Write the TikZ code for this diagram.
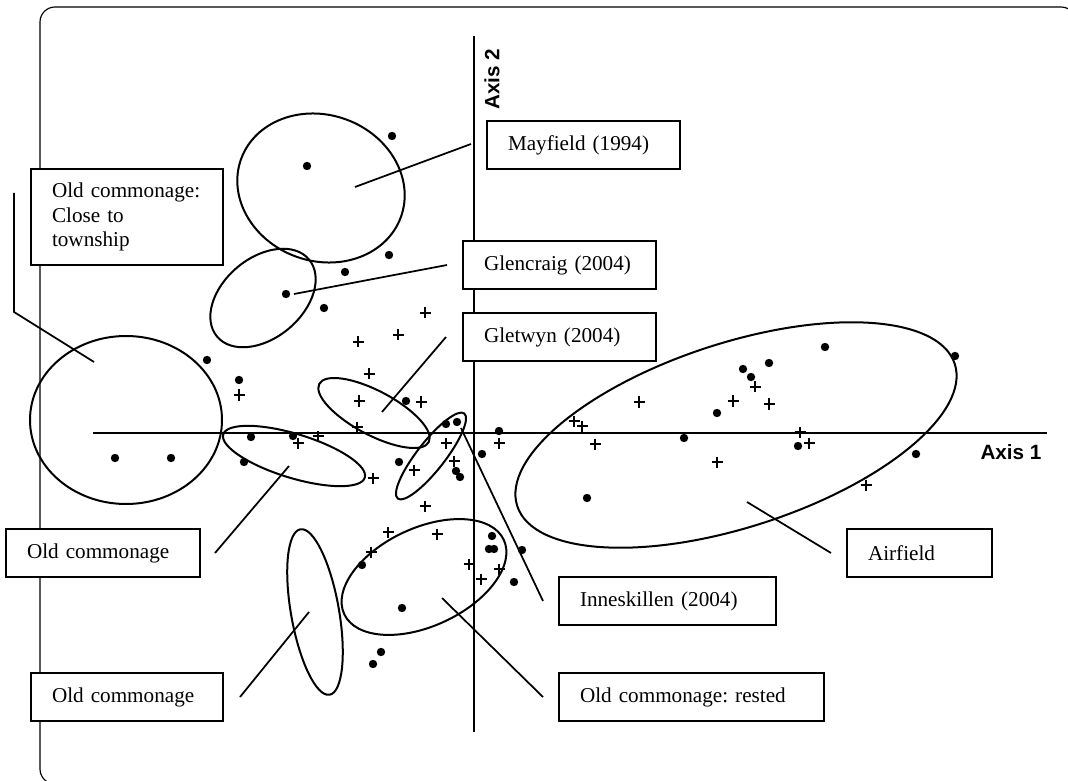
\documentclass[tikz,border=0pt]{standalone}
\usepackage{fontspec}
\setmainfont{Liberation Serif}
\newfontfamily\axfont{Liberation Sans}
\usetikzlibrary{calc}
\frenchspacing
\tikzset{crs/.pic={\draw[line width=0.75pt] (-5.5,0) -- (5.5,0) (0,-5.5) -- (0,5.5);}}
\begin{document}
\begin{tikzpicture}[x=0.6pt,y=-0.6pt,
  box/.style={draw,fill=white,line width=1.2pt,inner xsep=12.6pt,inner ysep=0pt,
    minimum height=28.8pt,align=left,anchor=north west,
    font=\fontsize{12.7}{14.7}\selectfont\frenchspacing},
  lead/.style={line width=1.05pt},
  ell/.style={line width=1.2pt},
  axisline/.style={line width=1.45pt},
  axlabel/.style={font={\axfont\bfseries\fontsize{12.4}{14}\selectfont}},
]
\useasboundingbox (0,0) rectangle (1068,781);
\clip (0,0) rectangle (1068,781);
% frame
\draw[line width=0.7pt, rounded corners=9pt] (40,7) rectangle (1076,784);
% axes
\coordinate (a1w) at (93,433);
\coordinate (a1e) at (1047,433);
\coordinate (a2n) at (474,36);
\coordinate (a2s) at (474,732);
\draw[axisline] (a1w) -- (a1e);
\draw[axisline] (a2n) -- (a2s);
\node[axlabel, rotate=90] (ax2) at (492,79) {Axis 2};
\node[axlabel] (ax1) at (1011,452) {Axis 1};
% ellipses
\draw[ell, rotate around={-20:(321,188)}] (321,188) ellipse (85 and 73);
\draw[ell, rotate around={40:(263,298)}] (263,298) ellipse (60 and 40);
\draw[ell] (126,420) ellipse (96 and 84);
\draw[ell, rotate around={-28:(374,413)}] (374,413) ellipse (62 and 22);
\draw[ell, rotate around={-17:(294,456)}] (294,456) ellipse (74 and 22);
\draw[ell, rotate around={52:(431,456)}] (431,456) ellipse (54 and 14);
\draw[ell, rotate around={-80:(315,612)}] (315,612) ellipse (84 and 24);
\draw[ell, rotate around={25:(424,577)}] (424,577) ellipse (88 and 49);
\draw[ell, rotate around={18:(736,435)}] (736,435) ellipse (230 and 92);
% dots
\foreach \p in {(307,166),(392,136),(389,255),(345,272),(286,294),(324,308),(207,360),
  (239,380),(251,437),(293,436),(244,462),(115,458),(171,458),(406,401),(446,424),
  (457,422),(499,431),(482,454),(399,462),(456,471),(460,477),(587,498),(684,438),
  (717,413),(825,347),(955,356),(769,363),(743,369),(751,377),(798,446),(916,454),
  (492,536),(489,549),(494,549),(522,550),(362,565),(514,582),(402,608),(381,652),(373,664)}
  \fill \p circle (4.2);
% crosses
\foreach \p in {(425,313),(398,335),(358,342),(369,374),(239,395),(359,401),(421,402),
  (357,427),(298,443),(318,436),(373,478),(446,443),(454,461),(414,470),(499,443),
  (639,402),(574,421),(582,426),(595,444),(425,506),(717,462),(755,387),(733,401),
  (769,404),(800,432),(809,443),(866,485),(388,532),(437,534),(371,552),(469,564),
  (499,569),(481,579)}
  \pic at \p {crs};
% boxes
\node[box,text width=90.6pt] (may) at (486,120) {Mayfield (1994)};
\node[box,text width=90.6pt] (glen) at (462,240) {Glencraig (2004)};
\node[box,text width=90.6pt] (glet) at (462,312) {Gletwyn (2004)};
\node[box,text width=90pt,minimum height=57.6pt] (oc1) at (30,168) {Old commonage:\\Close to\\township};
\node[box,text width=91.2pt] (oc2) at (5,528) {Old commonage};
\node[box,text width=90pt] (oc3) at (30,672) {Old commonage};
\node[box,text width=105pt] (inn) at (558,576) {Inneskillen (2004)};
\node[box,text width=133.8pt] (ocr) at (558,672) {Old commonage: rested};
\node[box,text width=61.8pt] (air) at (846,528) {Airfield};
% leader ends
\coordinate (mayE) at (355,187);
\coordinate (glenE) at (294,294);
\coordinate (gletE) at (382,412);
\coordinate (oc1E) at (94,362);
\coordinate (oc2E) at (289,466);
\coordinate (oc3E) at (309,612);
\coordinate (innE) at (461,428);
\coordinate (ocrE) at (442,598);
\coordinate (airE) at (747,502);
% leaders
\draw[lead] ($(may.west)+(-15,-1)$) -- (mayE);
\draw[lead] ($(glen.west)+(-15,0)$) -- (glenE);
\draw[lead] ($(glet.west)+(-16,0)$) -- (gletE);
\draw[lead] ($(oc1.west)+(-16,-24)$) -- ($(oc1.west)+(-16,95)$) -- (oc1E);
\draw[lead] ($(oc2.east)+(14,0)$) -- (oc2E);
\draw[lead] ($(oc3.east)+(16,0)$) -- (oc3E);
\draw[lead] ($(inn.west)+(-15,0)$) -- (innE);
\draw[lead] ($(ocr.west)+(-15,0)$) -- (ocrE);
\draw[lead] ($(air.west)+(-15,0)$) -- (airE);
\end{tikzpicture}
\end{document}
